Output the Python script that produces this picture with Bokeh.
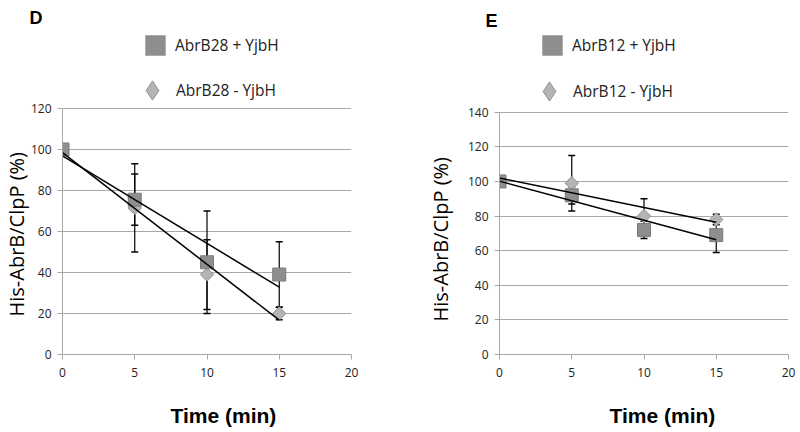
import numpy as np
from math import pi
from bokeh.plotting import figure
from bokeh.layouts import row
from bokeh.models import (Range1d, FixedTicker, Whisker, TeeHead, ColumnDataSource,
                          Title, Legend, LegendItem)
from bokeh.embed import file_html
from bokeh.resources import INLINE

# ---------------- data ----------------
time_min = [0, 5, 10, 15]
x_ticks = [0, 5, 10, 15, 20]

# Panel D (AbrB28)
d_plus = [100, 75.5, 45, 39]
d_plus_err = [0, 12.5, 25, 16]
d_minus = [100, 71.5, 39, 20]
d_minus_err = [0, 21.5, 17, 3]
d_yticks = [0, 20, 40, 60, 80, 100, 120]

# Panel E (AbrB12)
e_plus = [100, 92, 72, 69]
e_plus_err = [0, 5, 5, 10]
e_minus = [100, 99, 80, 78]
e_minus_err = [0, 16, 10, 3]
e_yticks = [0, 20, 40, 60, 80, 100, 120, 140]

SQ_FILL, SQ_LINE = "#8e8e8e", "#7a7a7a"
DM_FILL, DM_LINE = "#b4b4b4", "#939393"
GRID = "#a8a8a8"
FONT = "Open Sans"
BOLD_FONT = "Liberation Sans"

AXIS_H = 246      # pixel height of the tick-labelled part of the y axis
FRAME_W = 289


def make_panel(letter, name, plus, plus_err, minus, minus_err, yticks,
               width, border_left, border_top, frame_h, ylab_offset, ylab_standoff,
               xlab_offset, xlab_space, letter_align, letter_offset, letter_standoff,
               sq_loc, dm_loc):
    y_top = yticks[-1] * frame_h / AXIS_H
    p = figure(width=width, height=432, output_backend="svg", toolbar_location=None,
               x_range=Range1d(0, 20), y_range=Range1d(0, y_top),
               min_border_left=border_left, min_border_right=width - border_left - FRAME_W,
               min_border_top=border_top, min_border_bottom=432 - border_top - frame_h)
    p.outline_line_color = None
    p.xgrid.grid_line_color = None
    p.ygrid.grid_line_color = GRID
    p.ygrid.grid_line_width = 1
    p.xaxis.ticker = FixedTicker(ticks=x_ticks)
    p.yaxis.ticker = FixedTicker(ticks=yticks)
    p.yaxis.bounds = (yticks[0], yticks[-1])
    for ax in (p.xaxis[0], p.yaxis[0]):
        ax.axis_line_color = GRID
        ax.major_tick_line_color = GRID
        ax.major_tick_in = 0
        ax.major_tick_out = 5
        ax.minor_tick_line_color = None
        ax.major_label_text_font = FONT
        ax.major_label_text_font_size = "12px"
        ax.major_label_text_color = "#222222"
    p.xaxis.major_label_standoff = 8
    p.yaxis.major_label_standoff = 6
    # blank axis label used only as spacing below the tick labels
    p.xaxis.axis_label = " "
    p.xaxis.axis_label_text_font_size = "1px"
    p.xaxis.axis_label_standoff = xlab_space

    # error bars (behind markers)
    for vals, errs in ((plus, plus_err), (minus, minus_err)):
        src = ColumnDataSource(dict(t=time_min,
                                    up=[v + e for v, e in zip(vals, errs)],
                                    lo=[v - e for v, e in zip(vals, errs)]))
        w = Whisker(base="t", upper="up", lower="lo", source=src,
                    line_color="black", line_width=1.2,
                    upper_head=TeeHead(size=7, line_color="black", line_width=1.5),
                    lower_head=TeeHead(size=7, line_color="black", line_width=1.5))
        p.add_layout(w)

    r_dm = p.scatter(time_min, minus, marker="square", size=9.5, angle=pi / 4,
                     fill_color=DM_FILL, line_color=DM_LINE, line_width=1)
    r_sq = p.scatter(time_min, plus, marker="square", size=13,
                     fill_color=SQ_FILL, line_color=SQ_LINE, line_width=1)

    # hidden renderers that only provide the legend swatch styles
    key_sq = p.scatter(time_min, plus, marker="square", fill_color=SQ_FILL,
                       line_color=SQ_FILL, line_width=6, line_join="miter",
                       visible=False)
    key_dm = p.scatter(time_min, minus, marker="diamond", fill_color=DM_FILL,
                       line_color=DM_LINE, line_width=1, visible=False)

    # linear trend lines computed from the data
    t = np.array(time_min, dtype=float)
    for vals in (plus, minus):
        k, b = np.polyfit(t, np.array(vals, dtype=float), 1)
        tt = np.array([t[0], t[-1]])
        p.line(tt, k * tt + b, line_color="black", line_width=1.5)

    # legends in the free space above the top grid line
    common = dict(padding=0, margin=0, border_line_color=None, background_fill_alpha=0,
                  label_text_font=FONT, label_text_font_size="15.5px",
                  label_text_color="#222222")
    lg_sq = Legend(items=[LegendItem(label=f"{name} + YjbH", renderers=[key_sq])],
                   location=sq_loc, glyph_width=36, glyph_height=36, label_height=36,
                   label_standoff=2, **common)
    lg_dm = Legend(items=[LegendItem(label=f"{name} - YjbH", renderers=[key_dm])],
                   location=dm_loc, glyph_width=48, glyph_height=48, label_height=48,
                   label_standoff=0, **common)
    p.add_layout(lg_sq, "center")
    p.add_layout(lg_dm, "center")

    p.title = Title(text=letter, align="left", offset=letter_offset,
                    standoff=letter_standoff, vertical_align=letter_align,
                    text_font=BOLD_FONT, text_font_style="bold",
                    text_font_size="18px", text_color="black")

    p.add_layout(Title(text="His-AbrB/ClpP (%)", align="left", offset=ylab_offset,
                       standoff=ylab_standoff, text_font=FONT,
                       text_font_style="normal", text_font_size="20px",
                       text_color="black"), "left")

    p.add_layout(Title(text="Time (min)", align="left", offset=xlab_offset,
                       standoff=0, vertical_align="top",
                       text_font=BOLD_FONT, text_font_style="bold",
                       text_font_size="21px", text_color="black"), "below")
    return p


pD = make_panel("D", "AbrB28", d_plus, d_plus_err, d_minus, d_minus_err, d_yticks,
                width=400, border_left=62, border_top=33, frame_h=321,
                ylab_offset=38, ylab_standoff=-5,
                xlab_offset=108, xlab_space=20,
                letter_align="middle", letter_offset=-33, letter_standoff=10,
                sq_loc=(75, 291), dm_loc=(66, 240))
pE = make_panel("E", "AbrB12", e_plus, e_plus_err, e_minus, e_minus_err, e_yticks,
                width=400, border_left=99, border_top=33, frame_h=326,
                ylab_offset=33, ylab_standoff=21,
                xlab_offset=110, xlab_space=20,
                letter_align="top", letter_offset=-14, letter_standoff=2,
                sq_loc=(35, 291), dm_loc=(26, 239))

layout = row(pD, pE, spacing=0)
open("out.html", "w").write(file_html(layout, INLINE))
